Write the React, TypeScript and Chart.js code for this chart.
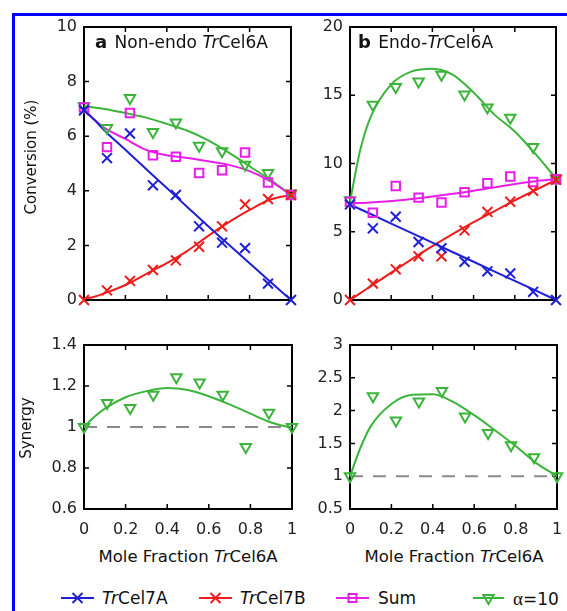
import React, { useEffect, useRef } from "react";
import { Chart, registerables } from "chart.js";

Chart.register(...registerables);

const FONT = "'DejaVu Sans', 'Liberation Sans', sans-serif";
Chart.defaults.font.family = FONT;
Chart.defaults.color = "#222";

// ---------- data ----------
const molFrac = [0, 0.111, 0.222, 0.333, 0.444, 0.556, 0.667, 0.778, 0.889, 1];
const fitFrac = [0, 0.05, 0.1, 0.2, 0.3, 0.4, 0.5, 0.6, 0.7, 0.8, 0.9, 1];

// panel a: non-endo TrCel6A (conversion %)
const cel7A_a = [6.95, 5.2, 6.1, 4.2, 3.85, 2.7, 2.1, 1.9, 0.6, 0];
const cel7B_a = [0, 0.35, 0.7, 1.1, 1.45, 1.95, 2.7, 3.5, 3.7, 3.85];
const sum_a = [7.05, 5.6, 6.85, 5.3, 5.25, 4.65, 4.75, 5.4, 4.3, 3.85];
const alpha_a = [7.1, 6.3, 7.4, 6.15, 6.5, 5.65, 5.45, 4.95, 4.65, 3.9];
const fit7A_a = [6.95, 6.6, 6.2, 5.5, 4.8, 4.1, 3.4, 2.7, 2.02, 1.35, 0.67, 0];
const fit7B_a = [0.05, 0.12, 0.25, 0.55, 0.95, 1.35, 1.8, 2.35, 2.85, 3.3, 3.68, 3.85];
const fitSum_a = [7.0, 6.6, 6.3, 5.9, 5.5, 5.3, 5.2, 5.08, 4.95, 4.72, 4.35, 3.85];
const fitAlpha_a = [7.1, 7.05, 7.0, 6.85, 6.68, 6.45, 6.2, 5.85, 5.4, 4.9, 4.4, 3.85];

// panel b: endo TrCel6A (conversion %)
const cel7A_b = [7.0, 5.25, 6.1, 4.25, 3.8, 2.8, 2.1, 1.95, 0.6, 0];
const cel7B_b = [0, 1.2, 2.25, 3.2, 3.2, 5.1, 6.45, 7.2, 8.0, 8.8];
const sum_b = [7.2, 6.4, 8.35, 7.5, 7.15, 7.9, 8.55, 9.05, 8.65, 8.85];
const alpha_b = [7.3, 14.3, 15.6, 16.0, 16.5, 15.05, 14.1, 13.35, 11.2, 8.9];
const fit7A_b = [7.0, 6.65, 6.3, 5.6, 4.9, 4.2, 3.5, 2.8, 2.1, 1.4, 0.7, 0];
const fit7B_b = [0, 0.5, 1.0, 2.0, 3.0, 3.95, 4.85, 5.7, 6.5, 7.3, 8.05, 8.8];
const fitSum_b = [7.1, 7.1, 7.15, 7.25, 7.4, 7.58, 7.78, 8.0, 8.25, 8.5, 8.7, 8.85];
const fitAlpha_b = [7.2, 11.0, 13.4, 15.8, 16.75, 16.95, 16.5, 15.2, 13.6, 12.35, 10.7, 8.9];

// synergy
const syn_a = [1.0, 1.117, 1.093, 1.157, 1.243, 1.217, 1.157, 0.902, 1.069, 1.0];
const fitSyn_a = [1.0, 1.05, 1.09, 1.145, 1.175, 1.19, 1.18, 1.15, 1.11, 1.065, 1.022, 0.995];
const syn_b = [1.0, 2.22, 1.85, 2.14, 2.3, 1.91, 1.66, 1.47, 1.29, 1.0];
const fitSyn_b = [1.0, 1.43, 1.76, 2.1, 2.24, 2.25, 2.13, 1.93, 1.7, 1.46, 1.2, 1.0];
const baseX = [0, 1];
const baseY = [1, 1];

// ticks
const xTicks = [0, 0.2, 0.4, 0.6, 0.8, 1];
const yTicksConvA = [0, 2, 4, 6, 8, 10];
const yTicksConvB = [0, 5, 10, 15, 20];
const yTicksSynA = [0.6, 0.8, 1, 1.2, 1.4];
const yTicksSynB = [0.5, 1, 1.5, 2, 2.5, 3];

// ---------- styles ----------
const BLUE = "#1f1fd6";
const RED = "#ee1c1c";
const MAGENTA = "#e81ee8";
const GREEN = "#3cb43c";
const GRAY = "#8a8a8a";

const pts = (xs: number[], ys: number[]) => xs.map((x, i) => ({ x, y: ys[i] }));

const markerDs = (ys: number[], color: string, style: string) => ({
  data: pts(molFrac, ys),
  showLine: false,
  pointStyle: style,
  pointRadius: style === "crossRot" ? 7 : 6,
  pointHoverRadius: style === "crossRot" ? 7 : 6,
  pointRotation: style === "triangle" ? 180 : 0,
  pointBorderWidth: 2,
  borderColor: color,
  backgroundColor: "rgba(0,0,0,0)",
  clip: false,
});

const fitDs = (ys: number[], color: string) => ({
  data: pts(fitFrac, ys),
  showLine: true,
  pointRadius: 0,
  pointHoverRadius: 0,
  borderColor: color,
  borderWidth: 2,
  cubicInterpolationMode: "monotone",
  fill: false,
  clip: false,
});

const dashDs = () => ({
  data: pts(baseX, baseY),
  showLine: true,
  pointRadius: 0,
  pointHoverRadius: 0,
  borderColor: GRAY,
  borderWidth: 2,
  borderDash: [13, 10],
  fill: false,
});

const framePlugin = {
  id: "frame",
  beforeDatasetsDraw(chart: any, _args: any, opts: any) {
    const { ctx, chartArea: a, scales } = chart;
    const xs = scales.x;
    const ys = scales.y;
    ctx.save();
    ctx.strokeStyle = "#000";
    ctx.lineWidth = 1.5;
    const L = 5;
    ctx.beginPath();
    for (const v of opts.xTicks) {
      const px = xs.getPixelForValue(v);
      ctx.moveTo(px, a.bottom);
      ctx.lineTo(px, a.bottom - L);
      ctx.moveTo(px, a.top);
      ctx.lineTo(px, a.top + L);
    }
    for (const v of opts.yTicks) {
      const py = ys.getPixelForValue(v);
      ctx.moveTo(a.left, py);
      ctx.lineTo(a.left + L, py);
      ctx.moveTo(a.right, py);
      ctx.lineTo(a.right - L, py);
    }
    ctx.stroke();
    ctx.lineWidth = 2;
    ctx.strokeRect(a.left, a.top, a.right - a.left, a.bottom - a.top);
    ctx.restore();
  },
};

const zeroPad = (s: any) => {
  s.paddingTop = 0;
  s.paddingBottom = 0;
  s.paddingLeft = 0;
  s.paddingRight = 0;
};

type PanelProps = {
  left: number;
  top: number;
  width: number;
  height: number;
  yWidth: number;
  xHeight: number;
  padding: any;
  yTicks: number[];
  showX: boolean;
  datasets: any[];
};

function Panel(p: PanelProps) {
  const ref = useRef<HTMLCanvasElement>(null);
  useEffect(() => {
    if (!ref.current) return;
    const yMin = p.yTicks[0];
    const yMax = p.yTicks[p.yTicks.length - 1];
    const chart = new Chart(ref.current, {
      type: "scatter",
      data: { datasets: p.datasets as any },
      options: {
        animation: false,
        responsive: false,
        devicePixelRatio: 1,
        events: [],
        layout: { padding: p.padding },
        plugins: {
          legend: { display: false },
          tooltip: { enabled: false },
          frame: { xTicks, yTicks: p.yTicks },
        } as any,
        scales: {
          x: {
            type: "linear",
            min: 0,
            max: 1,
            display: p.showX,
            afterBuildTicks: (s: any) => {
              s.ticks = xTicks.map((v) => ({ value: v }));
            },
            afterFit: (s: any) => {
              s.height = p.xHeight;
              zeroPad(s);
            },
            grid: { display: false, drawTicks: false },
            border: { display: false },
            ticks: {
              padding: 11,
              font: { size: 16 },
              color: "#222",
              autoSkip: false,
              maxRotation: 0,
              callback: (v: any) => String(v),
            },
          },
          y: {
            type: "linear",
            min: yMin,
            max: yMax,
            afterBuildTicks: (s: any) => {
              s.ticks = p.yTicks.map((v) => ({ value: v }));
            },
            afterFit: (s: any) => {
              s.width = p.yWidth;
              zeroPad(s);
            },
            grid: { display: false, drawTicks: false },
            border: { display: false },
            ticks: {
              padding: 7,
              font: { size: 16 },
              color: "#222",
              autoSkip: false,
              callback: (v: any) => String(v),
            },
          },
        },
      } as any,
      plugins: [framePlugin as any],
    });
    return () => chart.destroy();
  }, []);
  return (
    <canvas
      ref={ref}
      width={p.width}
      height={p.height}
      style={{ position: "absolute", left: p.left, top: p.top, width: p.width, height: p.height }}
    />
  );
}

function Txt(props: { x: number; cy: number; size: number; center?: boolean; rotate?: boolean; children: any; style?: any }) {
  const { x, cy, size, center, rotate, children, style } = props;
  if (rotate) {
    return (
      <div
        style={{
          position: "absolute",
          left: x,
          top: cy,
          fontSize: size,
          lineHeight: `${size}px`,
          fontFamily: FONT,
          whiteSpace: "nowrap",
          color: "#111",
          transform: "translate(-50%, -50%) rotate(-90deg)",
          ...style,
        }}
      >
        {children}
      </div>
    );
  }
  return (
    <div
      style={{
        position: "absolute",
        left: x,
        top: cy - 0.4815 * size,
        fontSize: size,
        lineHeight: `${size}px`,
        fontFamily: FONT,
        whiteSpace: "nowrap",
        color: "#111",
        transform: center ? "translateX(-50%)" : undefined,
        ...style,
      }}
    >
      {children}
    </div>
  );
}

function LegendMark(props: { x: number; cy: number; w: number; color: string; kind: string }) {
  const { x, cy, w, color, kind } = props;
  const h = 16;
  const mx = w / 2;
  const my = h / 2;
  let mark: any = null;
  if (kind === "x") {
    mark = (
      <g stroke={color} strokeWidth={2}>
        <line x1={mx - 5} y1={my - 5} x2={mx + 5} y2={my + 5} />
        <line x1={mx - 5} y1={my + 5} x2={mx + 5} y2={my - 5} />
      </g>
    );
  } else if (kind === "sq") {
    mark = <rect x={mx - 4} y={my - 4} width={8} height={8} fill="none" stroke={color} strokeWidth={2} />;
  } else {
    mark = (
      <polygon
        points={`${mx - 5.2},${my - 3} ${mx + 5.2},${my - 3} ${mx},${my + 6}`}
        fill="none"
        stroke={color}
        strokeWidth={2}
      />
    );
  }
  return (
    <svg width={w} height={h} style={{ position: "absolute", left: x, top: cy - h / 2 }}>
      <line x1={0} y1={my} x2={w} y2={my} stroke={color} strokeWidth={2} />
      {mark}
    </svg>
  );
}

export default function App() {
  const dsA = [
    markerDs(cel7A_a, BLUE, "crossRot"),
    markerDs(cel7B_a, RED, "crossRot"),
    markerDs(sum_a, MAGENTA, "rect"),
    markerDs(alpha_a, GREEN, "triangle"),
    fitDs(fit7A_a, BLUE),
    fitDs(fit7B_a, RED),
    fitDs(fitSum_a, MAGENTA),
    fitDs(fitAlpha_a, GREEN),
  ];
  const dsB = [
    markerDs(cel7A_b, BLUE, "crossRot"),
    markerDs(cel7B_b, RED, "crossRot"),
    markerDs(sum_b, MAGENTA, "rect"),
    markerDs(alpha_b, GREEN, "triangle"),
    fitDs(fit7A_b, BLUE),
    fitDs(fit7B_b, RED),
    fitDs(fitSum_b, MAGENTA),
    fitDs(fitAlpha_b, GREEN),
  ];
  const dsSA = [markerDs(syn_a, GREEN, "triangle"), fitDs(fitSyn_a, GREEN), dashDs()];
  const dsSB = [markerDs(syn_b, GREEN, "triangle"), fitDs(fitSyn_b, GREEN), dashDs()];

  const italic = { fontStyle: "italic" };
  const serif = { fontFamily: "'Liberation Serif', 'DejaVu Serif', serif", fontSize: 19 };

  return (
    <div style={{ position: "absolute", left: 0, top: 0, width: 567, height: 611, overflow: "hidden", background: "#fff" }}>
      <div style={{ position: "absolute", left: 12, top: 13, width: 560, height: 3, background: "#0000ff" }} />
      <div style={{ position: "absolute", left: 12, top: 13, width: 3, height: 600, background: "#0000ff" }} />

      <Panel left={30} top={15} width={270} height={295} yWidth={54} xHeight={0}
        padding={{ top: 12, right: 7, bottom: 10, left: 0 }} yTicks={yTicksConvA} showX={false} datasets={dsA} />
      <Panel left={300} top={15} width={265} height={295} yWidth={50} xHeight={0}
        padding={{ top: 12, right: 7, bottom: 10, left: 0 }} yTicks={yTicksConvB} showX={false} datasets={dsB} />
      <Panel left={30} top={330} width={270} height={210} yWidth={54} xHeight={31}
        padding={{ top: 15, right: 7, bottom: 0, left: 0 }} yTicks={yTicksSynA} showX={true} datasets={dsSA} />
      <Panel left={300} top={330} width={265} height={210} yWidth={50} xHeight={31}
        padding={{ top: 15, right: 7, bottom: 0, left: 0 }} yTicks={yTicksSynB} showX={true} datasets={dsSB} />

      {/* panel labels */}
      <Txt x={95} cy={41} size={17}>
        <span style={{ fontWeight: "bold", fontSize: 18, marginRight: 2 }}>a</span> Non-endo <span style={italic}>Tr</span>Cel6A
      </Txt>
      <Txt x={358} cy={41} size={17}>
        <span style={{ fontWeight: "bold", fontSize: 18, marginRight: 2 }}>b</span> Endo-<span style={italic}>Tr</span>Cel6A
      </Txt>

      {/* axis titles */}
      <Txt x={31} cy={157} size={15} rotate>Conversion (%)</Txt>
      <Txt x={26} cy={428} size={15} rotate>Synergy</Txt>
      <Txt x={188} cy={556.5} size={16.5} center>
        Mole Fraction <span style={italic}>Tr</span>Cel6A
      </Txt>
      <Txt x={454} cy={556.5} size={16.5} center>
        Mole Fraction <span style={italic}>Tr</span>Cel6A
      </Txt>

      {/* legend */}
      <LegendMark x={61} cy={598} w={33} color={BLUE} kind="x" />
      <Txt x={102} cy={598} size={17}><span style={italic}>Tr</span>Cel7A</Txt>
      <LegendMark x={199} cy={598} w={33} color={RED} kind="x" />
      <Txt x={240} cy={598} size={17}><span style={italic}>Tr</span>Cel7B</Txt>
      <LegendMark x={336} cy={598} w={33} color={MAGENTA} kind="sq" />
      <Txt x={378} cy={598} size={17}>Sum</Txt>
      <LegendMark x={473} cy={598} w={31} color={GREEN} kind="tri" />
      <Txt x={513} cy={598} size={17}><span style={serif}>α</span>=10</Txt>
    </div>
  );
}
